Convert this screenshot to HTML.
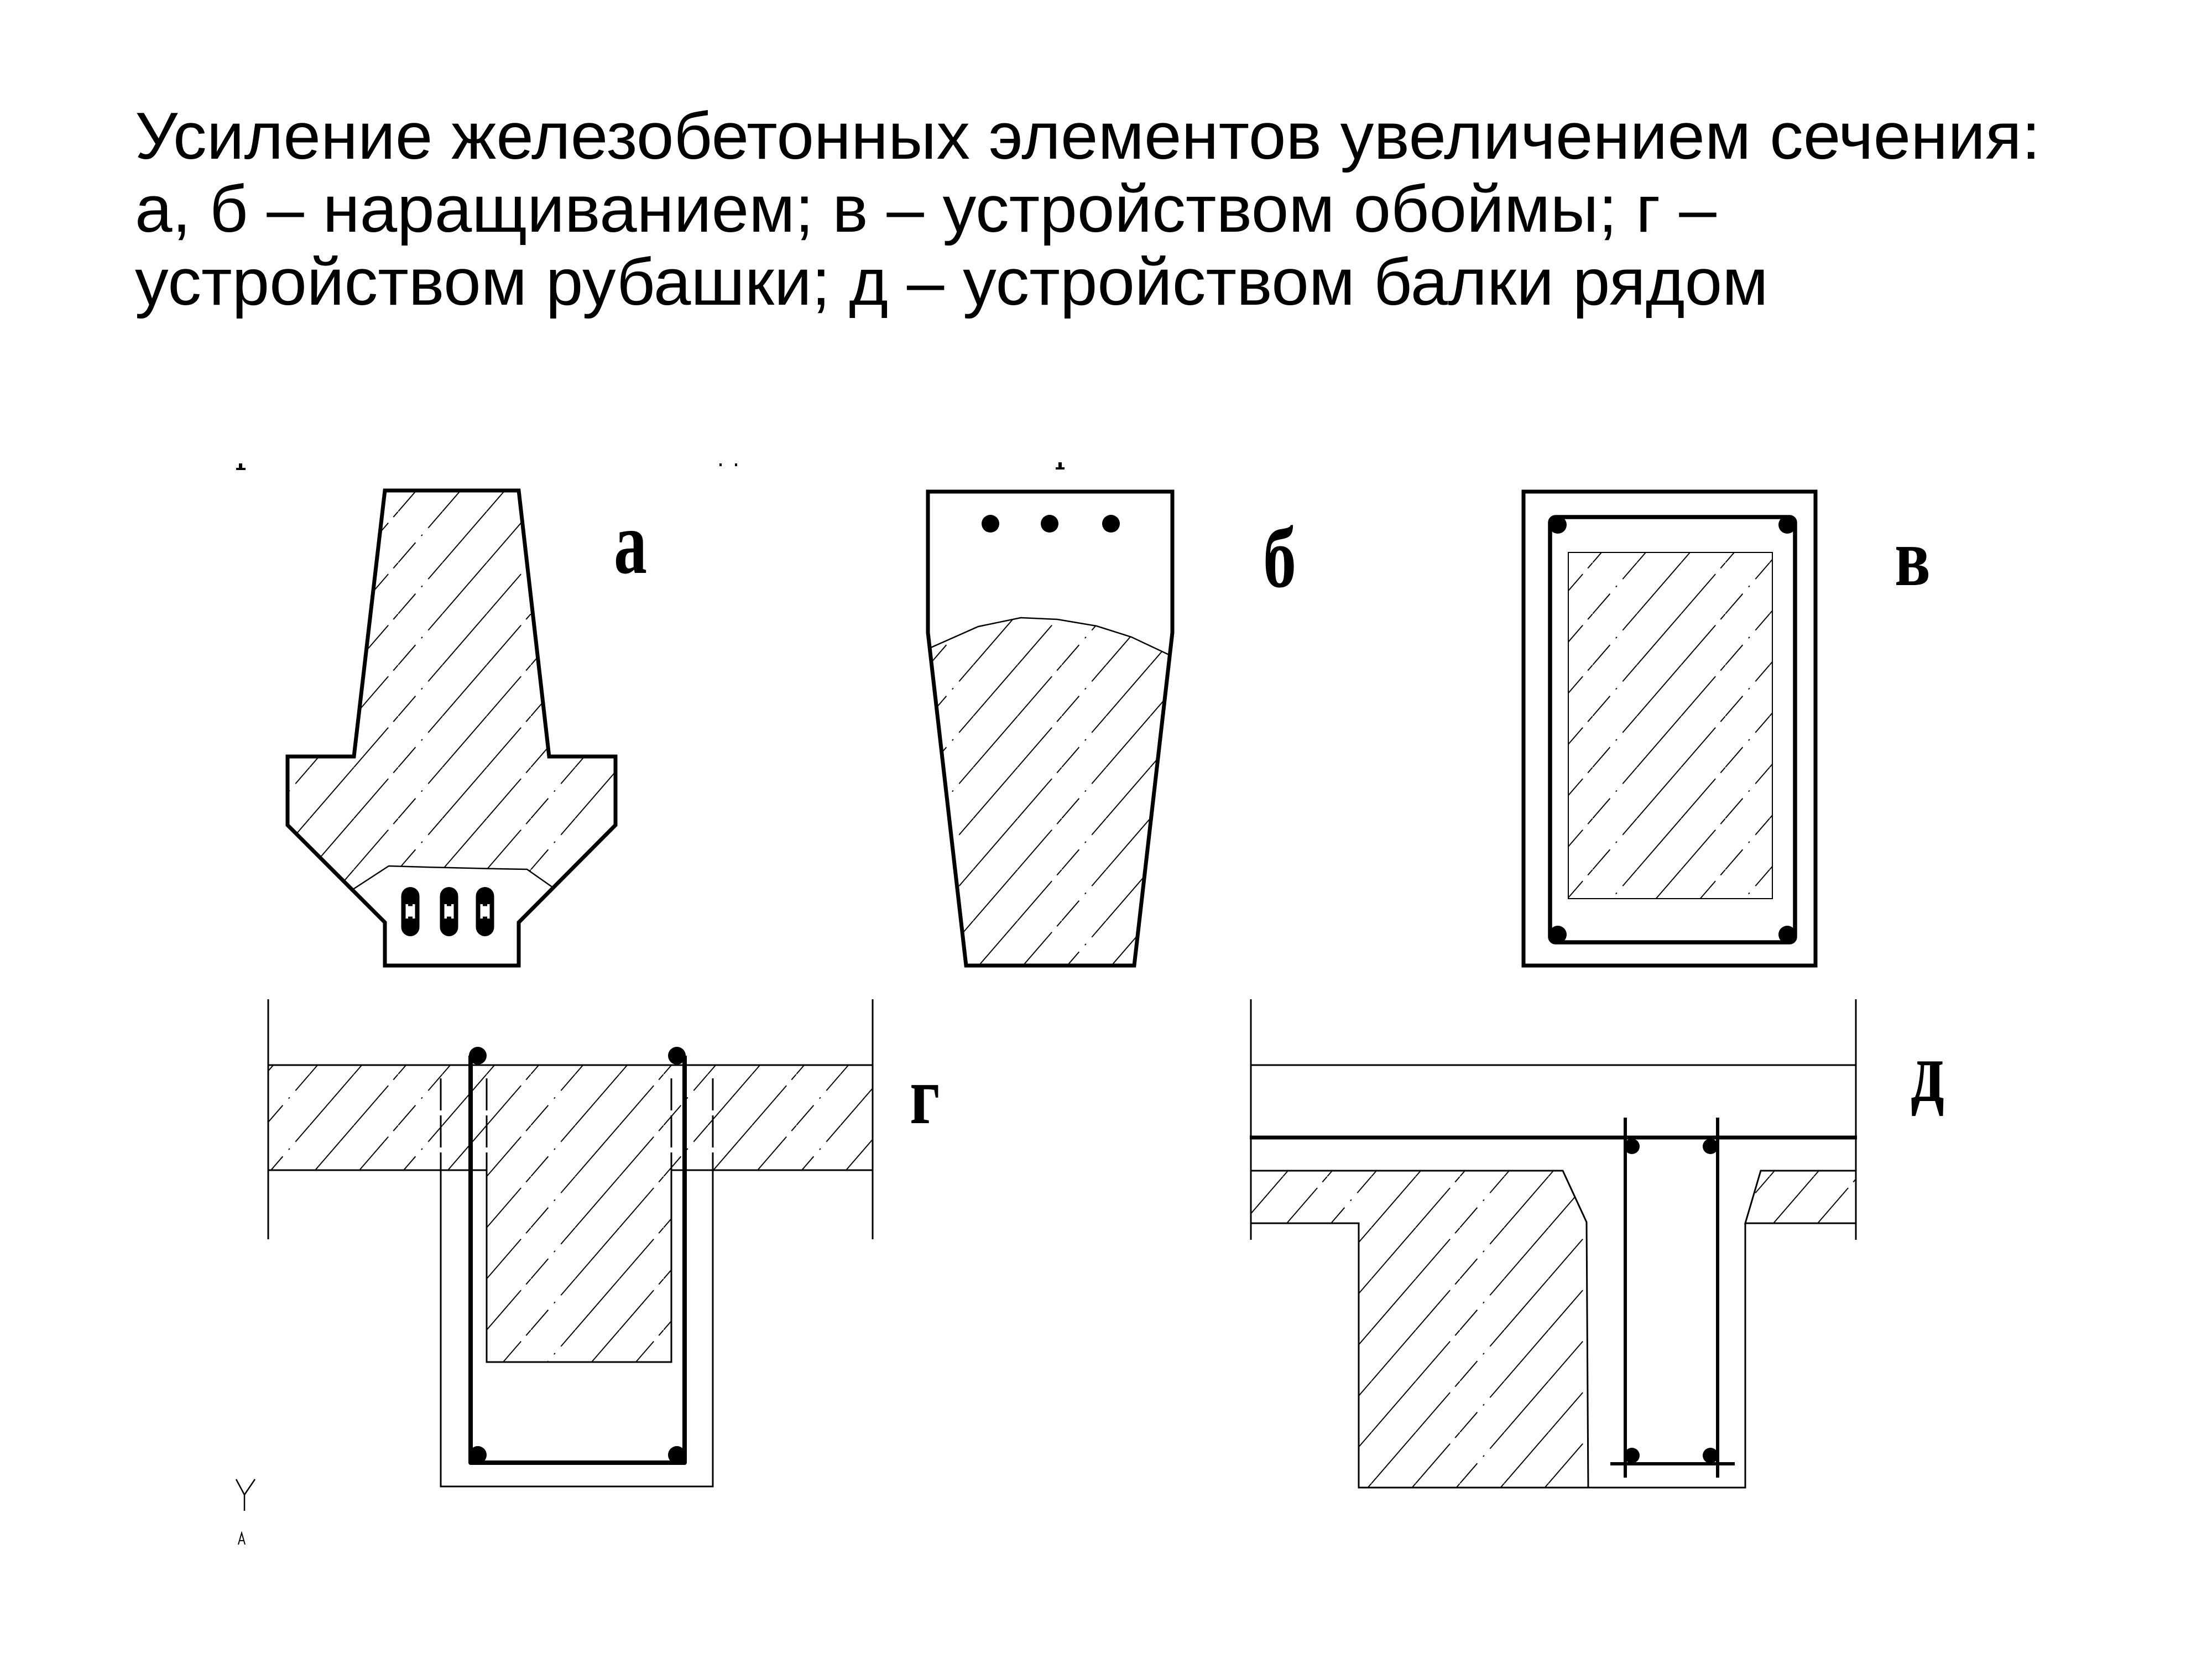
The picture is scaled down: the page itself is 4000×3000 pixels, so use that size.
<!DOCTYPE html>
<html>
<head>
<meta charset="utf-8">
<style>
  html, body { margin: 0; padding: 0; background: #ffffff; }
  svg { display: block; }
</style>
</head>
<body>
<svg width="4000" height="3000" viewBox="0 0 4000 3000" xmlns="http://www.w3.org/2000/svg">
  <defs>
    <pattern id="h" patternUnits="userSpaceOnUse" x="0" y="0" width="240" height="92.5">
      <line x1="0" y1="92.5" x2="80" y2="0" stroke="#000" stroke-width="2" stroke-dasharray="48 16 3 16 200"/>
      <line x1="80" y1="92.5" x2="160" y2="0" stroke="#000" stroke-width="2"/>
      <line x1="160" y1="92.5" x2="240" y2="0" stroke="#000" stroke-width="2" stroke-dasharray="95 14 200"/>
    </pattern>
  </defs>

  <rect x="0" y="0" width="4000" height="3000" fill="#ffffff"/>

  <!-- Title -->
  <g font-family="'Liberation Sans', 'DejaVu Sans', sans-serif" font-size="120" fill="#000" transform="translate(244,0) scale(1.012,1) translate(-244,0)">
    <text x="244" y="287">Усиление железобетонных элементов увеличением сечения:</text>
    <text x="244" y="419">а, б – наращиванием; в – устройством обоймы; г –</text>
    <text x="244" y="551">устройством рубашки; д – устройством балки рядом</text>
  </g>

  <!-- small top marks -->
  <rect x="432" y="838" width="6" height="10" fill="#000"/>
  <rect x="427" y="846" width="17" height="4" fill="#000"/>
  <rect x="1301" y="838" width="4" height="5" fill="#000"/>
  <rect x="1329" y="838" width="4" height="5" fill="#000"/>
  <rect x="1914" y="836" width="6" height="10" fill="#000"/>
  <rect x="1909" y="845" width="16" height="4" fill="#000"/>

  <!-- ===== Figure а ===== -->
  <polygon points="696,887 938,887 993,1368 1113,1368 1113,1492 1000,1605 953,1572 897,1571 770,1568 703,1566 637,1609 520,1492 520,1368 640,1368" fill="url(#h)"/>
  <polyline points="637,1609 703,1566 770,1568 897,1571 953,1572 1000,1605" fill="none" stroke="#000" stroke-width="2.5"/>
  <polygon points="696,887 938,887 993,1368 1113,1368 1113,1492 938,1668 938,1746 696,1746 696,1668 520,1492 520,1368 640,1368" fill="none" stroke="#000" stroke-width="7" stroke-linejoin="miter"/>
  <!-- bars -->
  <g fill="#000">
    <rect x="725.5" y="1604" width="33" height="89" rx="16.5"/>
    <rect x="795.5" y="1604" width="33" height="89" rx="16.5"/>
    <rect x="860.5" y="1604" width="33" height="89" rx="16.5"/>
  </g>
  <g fill="#fff">
    <rect x="733.5" y="1635" width="17" height="26"/>
    <rect x="803.5" y="1635" width="17" height="26"/>
    <rect x="868.5" y="1635" width="17" height="26"/>
  </g>
  <g fill="#000">
    <rect x="738" y="1635" width="8" height="3.5"/><rect x="738" y="1657.5" width="8" height="3.5"/>
    <rect x="808" y="1635" width="8" height="3.5"/><rect x="808" y="1657.5" width="8" height="3.5"/>
    <rect x="873" y="1635" width="8" height="3.5"/><rect x="873" y="1657.5" width="8" height="3.5"/>
  </g>

  <!-- ===== Figure б ===== -->
  <polygon points="1681,1170 1769,1133 1846,1117 1912,1120 1983,1132 2046,1152 2116,1185 2051,1746 1747,1746" fill="url(#h)"/>
  <polyline points="1681,1172 1769,1133 1846,1117 1912,1120 1983,1132 2046,1152 2116,1185" fill="none" stroke="#000" stroke-width="2.5"/>
  <path d="M1678,889 H2120 V1144 L2051,1746 H1747 L1678,1144 Z" fill="none" stroke="#000" stroke-width="7" stroke-linejoin="miter"/>
  <g fill="#000">
    <circle cx="1791" cy="947" r="16"/>
    <circle cx="1898" cy="947" r="16"/>
    <circle cx="2009" cy="947" r="16"/>
  </g>

  <!-- ===== Figure в ===== -->
  <rect x="2755" y="889" width="528" height="857" fill="none" stroke="#000" stroke-width="7"/>
  <rect x="2836" y="999" width="369" height="626" fill="url(#h)" stroke="#000" stroke-width="2"/>
  <rect x="2803" y="935" width="443" height="769" rx="10" fill="none" stroke="#000" stroke-width="7.5"/>
  <g fill="#000">
    <circle cx="2817" cy="949" r="16"/>
    <circle cx="3232" cy="949" r="16"/>
    <circle cx="2817" cy="1690" r="16"/>
    <circle cx="3232" cy="1690" r="16"/>
  </g>

  <!-- ===== Figure г ===== -->
  <rect x="485" y="1926" width="1093" height="190" fill="url(#h)"/>
  <rect x="880" y="2116" width="334" height="347" fill="url(#h)"/>
  <g stroke="#000" stroke-width="3" fill="none">
    <line x1="485" y1="1807" x2="485" y2="2241"/>
    <line x1="1578" y1="1807" x2="1578" y2="2241"/>
    <line x1="485" y1="1926" x2="1578" y2="1926"/>
    <line x1="485" y1="2116" x2="880" y2="2116"/>
    <line x1="1214" y1="2116" x2="1578" y2="2116"/>
    <polyline points="880,2116 880,2463 1214,2463 1214,2116"/>
    <polyline points="797,2116 797,2688 1289,2688 1289,2116"/>
    <g stroke-dasharray="58 9">
      <line x1="797" y1="1950" x2="797" y2="2116"/>
      <line x1="880" y1="1950" x2="880" y2="2116"/>
      <line x1="1214" y1="1950" x2="1214" y2="2116"/>
      <line x1="1289" y1="1950" x2="1289" y2="2116"/>
    </g>
  </g>
  <path d="M851,1909 V2645 H1238 V1909" fill="none" stroke="#000" stroke-width="8" stroke-linejoin="round"/>
  <g fill="#000">
    <circle cx="864" cy="1909" r="16"/>
    <circle cx="1224" cy="1909" r="16"/>
    <circle cx="864" cy="2631" r="16"/>
    <circle cx="1224" cy="2631" r="16"/>
  </g>

  <!-- Y marker -->
  <g stroke="#000" stroke-width="2.5" fill="none">
    <line x1="427" y1="2675" x2="442" y2="2703"/>
    <line x1="461" y1="2675" x2="442" y2="2703"/>
    <line x1="442" y1="2703" x2="442" y2="2732"/>
    <polyline points="431,2793 437,2772 443,2793" stroke-width="2"/>
    <line x1="433" y1="2786" x2="441" y2="2786" stroke-width="2"/>
  </g>

  <!-- ===== Figure д ===== -->
  <polygon points="2262,2117 2826,2117 2869,2210 2872,2690 2457,2690 2457,2212 2262,2212" fill="url(#h)" stroke="#000" stroke-width="3" stroke-linejoin="miter"/>
  <polygon points="3184,2117 3356,2117 3356,2212 3156,2212" fill="url(#h)" stroke="#000" stroke-width="3"/>
  <g stroke="#000" stroke-width="3" fill="none">
    <line x1="2262" y1="1807" x2="2262" y2="2242"/>
    <line x1="3356" y1="1807" x2="3356" y2="2242"/>
    <line x1="2262" y1="1926" x2="3356" y2="1926"/>
    <polyline points="2872,2690 3156,2690 3156,2212"/>
  </g>
  <line x1="2260" y1="2057" x2="3358" y2="2057" stroke="#000" stroke-width="7"/>
  <g stroke="#000" stroke-width="6">
    <line x1="2939" y1="2021" x2="2939" y2="2672"/>
    <line x1="3106" y1="2021" x2="3106" y2="2672"/>
    <line x1="2912" y1="2647" x2="3137" y2="2647"/>
  </g>
  <g fill="#000">
    <circle cx="2951" cy="2073" r="14"/>
    <circle cx="3093" cy="2073" r="14"/>
    <circle cx="2951" cy="2632" r="14"/>
    <circle cx="3093" cy="2632" r="14"/>
  </g>

  <!-- Labels -->
  <g font-family="'Liberation Serif', 'DejaVu Serif', serif" font-weight="bold" font-size="120" fill="#000">
    <text transform="translate(1110,1036) scale(1,1.35)">а</text>
    <text transform="translate(2284,1061) scale(1,1.3)">б</text>
    <text transform="translate(3426,1058) scale(1,1.25)">в</text>
    <text transform="translate(1645,2031) scale(1,1.25)">г</text>
    <text transform="translate(3455,1991) scale(1,1.3)">д</text>
  </g>
</svg>
</body>
</html>
